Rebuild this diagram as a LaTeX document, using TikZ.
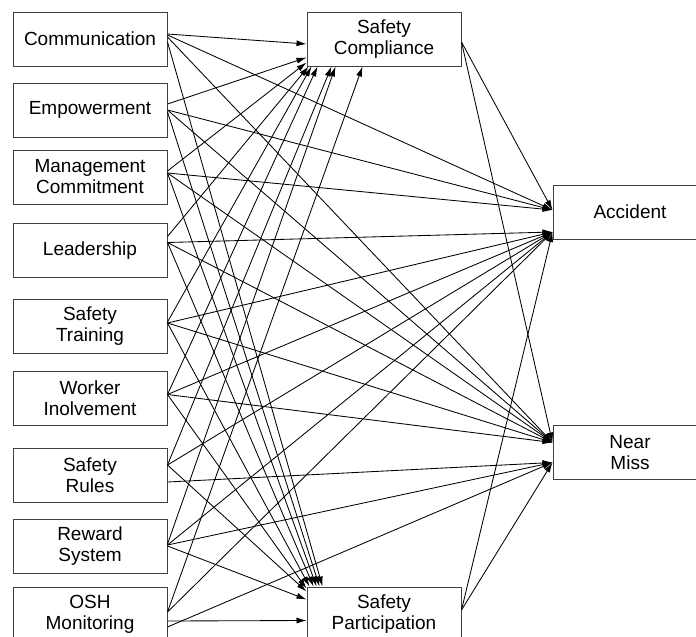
\documentclass[tikz,border=0pt]{standalone}
\usepackage{fontspec}
\setmainfont{Liberation Sans}
\usetikzlibrary{arrows.meta,calc}
\begin{document}
\begin{tikzpicture}[x=1pt,y=-1pt,
  box/.style={draw=black!75,line width=1pt,minimum width=154pt,minimum height=54pt,inner sep=0pt,align=center,font=\fontsize{19}{21}\selectfont},
  arr/.style={-{Latex[length=10pt,width=6pt]},line width=0.85pt}]
\useasboundingbox (0,0) rectangle (696,637);
\clip (0,0) rectangle (696,637);
% left column
\node[box] (com) at (90,39) {Communication};
\node[box] (emp) at (90,110) {Empowerment};
\node[box] (mgt) at (90,177) {Management\\Commitment};
\node[box] (lea) at (90,250.5) {Leadership};
\node[box] (tra) at (90,326) {Safety\\Training};
\node[box] (wor) at (90,398.5) {Worker\\Inolvement};
\node[box] (rul) at (90,475) {Safety\\Rules};
\node[box] (rew) at (90,546) {Reward\\System};
\node[box] (osh) at (90,614) {OSH\\Monitoring};
% middle
\node[box] (sc) at (384,39) {Safety\\Compliance};
\node[box] (sp) at (384,614) {Safety\\Participation};
% right
\node[box] (acc) at (630,212) {Accident};
\node[box] (nm) at (630,452.5) {Near\\Miss};
% target points
\coordinate (accU) at ($(acc.west)+(0,-2)$);
\coordinate (accL) at ($(acc.west)+(0,20)$);
\coordinate (nmU) at ($(nm.west)+(0,-10)$);
\coordinate (nmL) at ($(nm.west)+(0,10)$);
% to Safety Compliance
\draw[arr] ($(com.east)+(0,-5)$) -- ($(sc.west)+(0,5)$);
\draw[arr] ($(emp.east)+(0,-6)$) -- ($(sc.south west)+(0,-9)$);
\draw[arr] ($(mgt.east)+(0,-6)$) -- ($(sc.south west)+(0,-4)$);
\draw[arr] ($(lea.east)+(0,-14)$) -- ($(sc.south west)+(2,0)$);
\draw[arr] ($(tra.east)+(0,-4)$) -- ($(sc.south west)+(5,0)$);
\draw[arr] ($(wor.east)+(0,-4)$) -- ($(sc.south west)+(11,0)$);
\draw[arr] ($(rul.east)+(0,-10)$) -- ($(sc.south west)+(25,0)$);
\draw[arr] ($(rew.east)+(0,-2)$) -- ($(sc.south west)+(29,0)$);
\draw[arr] ($(osh.east)+(0,-2)$) -- ($(sc.south west)+(56,0)$);
% to Safety Participation
\draw[arr] ($(com.east)+(0,3)$) -- ($(sp.north west)+(16,0)$);
\draw[arr] ($(emp.east)+(0,2)$) -- ($(sp.north west)+(13,0)$);
\draw[arr] ($(mgt.east)+(0,-4)$) -- ($(sp.north west)+(10,0)$);
\draw[arr] ($(lea.east)+(0,-8)$) -- ($(sp.north west)+(7,0)$);
\draw[arr] ($(tra.east)+(0,-3)$) -- ($(sp.north west)+(3,0)$);
\draw[arr] ($(wor.east)+(0,-4)$) -- ($(sp.north west)+(0,2)$);
\draw[arr] ($(rul.east)+(0,-10)$) -- ($(sp.north west)+(0,5)$);
\draw[arr] ($(rew.east)+(0,0)$) -- ($(sp.north west)+(0,13)$);
\draw[arr] ($(osh.east)+(0,7)$) -- ($(sp.north west)+(0,34)$);
% to Accident
\draw[arr] ($(com.east)+(0,-4)$) -- (accU);
\draw[arr] ($(emp.east)+(0,0)$) -- (accU);
\draw[arr] ($(mgt.east)+(0,-4)$) -- (accU);
\draw[arr] ($(lea.east)+(0,-8)$) -- (accL);
\draw[arr] ($(tra.east)+(0,-3)$) -- (accL);
\draw[arr] ($(wor.east)+(0,-4)$) -- (accL);
\draw[arr] ($(rul.east)+(0,-10)$) -- (accL);
\draw[arr] ($(rew.east)+(0,-1)$) -- (accL);
\draw[arr] ($(osh.east)+(0,-2)$) -- (accL);
% to Near Miss
\draw[arr] ($(com.east)+(0,-2)$) -- (nmU);
\draw[arr] ($(emp.east)+(0,0)$) -- (nmU);
\draw[arr] ($(mgt.east)+(0,-4)$) -- (nmU);
\draw[arr] ($(lea.east)+(0,-8)$) -- (nmU);
\draw[arr] ($(tra.east)+(0,-3)$) -- (nmU);
\draw[arr] ($(wor.east)+(0,-4)$) -- (nmU);
\draw[arr] ($(rul.east)+(0,7)$) -- (nmL);
\draw[arr] ($(rew.east)+(0,-1)$) -- (nmL);
\draw[arr] ($(osh.east)+(0,13)$) -- (nmL);
% mediators to outcomes
\draw[arr] ($(sc.east)+(0,3)$) -- (accU);
\draw[arr] ($(sc.east)+(0,3)$) -- (nmU);
\draw[arr] ($(sp.east)+(0,-4)$) -- (accL);
\draw[arr] ($(sp.east)+(0,-4)$) -- (nmL);
\end{tikzpicture}
\end{document}
